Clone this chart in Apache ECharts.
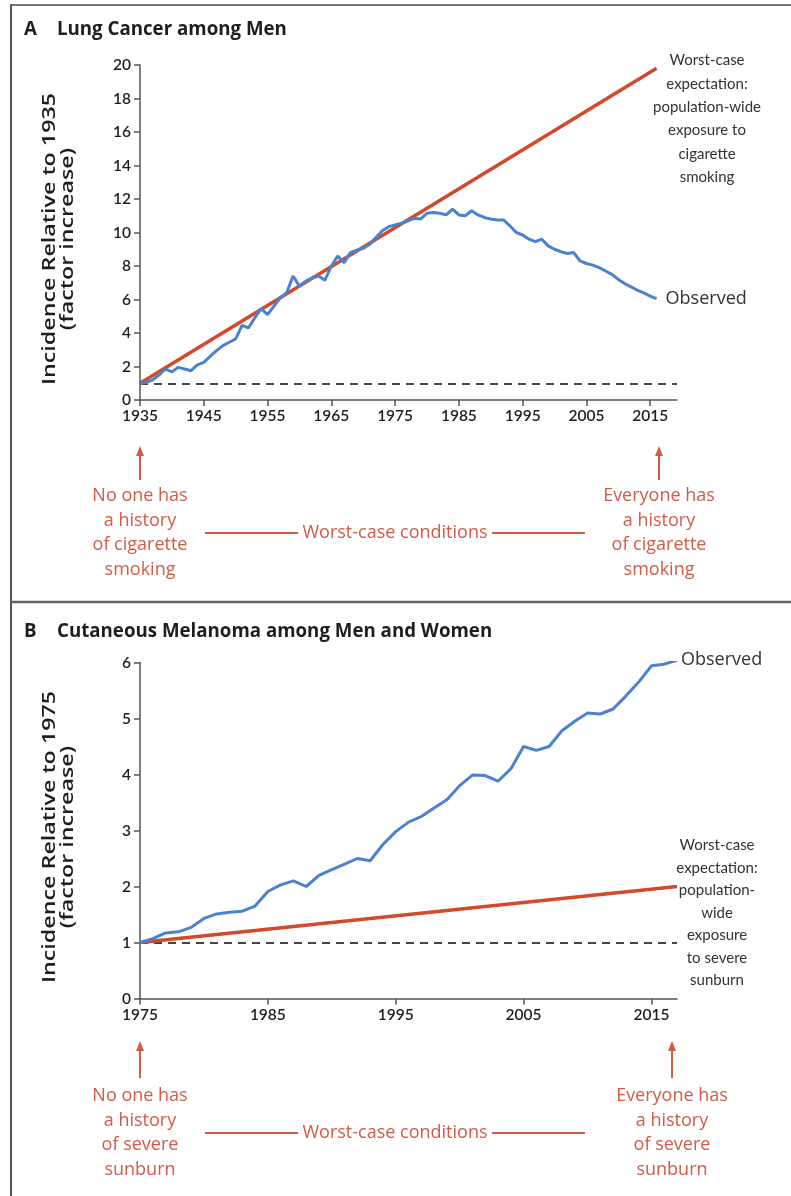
<!DOCTYPE html>
<html><head><meta charset="utf-8">
<script src="https://cdn.jsdelivr.net/npm/echarts@6/dist/echarts.min.js"></script>
<style>html,body{margin:0;padding:0;background:#fff}#c{width:791px;height:1196px}</style>
</head><body><div id="c"></div>
<script>
// ---------- Panel A: lung cancer among men ----------
const yearsA = [1935,1936,1937,1938,1939,1940,1941,1942,1943,1944,1945,1946,1947,1948,1949,1950,1951,1952,1953,1954,1955,1956,1957,1958,1959,1960,1961,1962,1963,1964,1965,1966,1967,1968,1969,1970,1971,1972,1973,1974,1975,1976,1977,1978,1979,1980,1981,1982,1983,1984,1985,1986,1987,1988,1989,1990,1991,1992,1993,1994,1995,1996,1997,1998,1999,2000,2001,2002,2003,2004,2005,2006,2007,2008,2009,2010,2011,2012,2013,2014,2015,2016];
const observedA = [1.0,1.05,1.2,1.5,1.85,1.68,1.95,1.85,1.75,2.1,2.25,2.6,2.95,3.25,3.45,3.65,4.45,4.3,4.9,5.45,5.1,5.6,6.1,6.4,7.4,6.8,7.1,7.3,7.4,7.15,8.0,8.6,8.2,8.8,8.95,9.05,9.3,9.7,10.1,10.35,10.45,10.55,10.7,10.85,10.8,11.15,11.2,11.15,11.05,11.4,11.05,11.0,11.3,11.05,10.9,10.8,10.75,10.75,10.4,10.0,9.85,9.6,9.45,9.6,9.2,9.0,8.85,8.75,8.8,8.3,8.15,8.05,7.9,7.7,7.5,7.2,6.95,6.75,6.55,6.4,6.2,6.05];
const worstA = [[1935,1],[2016,19.8]];
const xTicksA = [1935,1945,1955,1965,1975,1985,1995,2005,2015];

// ---------- Panel B: cutaneous melanoma ----------
const yearsB = [1975,1976,1977,1978,1979,1980,1981,1982,1983,1984,1985,1986,1987,1988,1989,1990,1991,1992,1993,1994,1995,1996,1997,1998,1999,2000,2001,2002,2003,2004,2005,2006,2007,2008,2009,2010,2011,2012,2013,2014,2015,2016,2017];
const observedB = [1.0,1.07,1.17,1.19,1.27,1.43,1.51,1.54,1.56,1.65,1.91,2.03,2.1,2.0,2.2,2.3,2.4,2.5,2.46,2.75,2.98,3.15,3.25,3.4,3.55,3.8,3.99,3.98,3.88,4.1,4.5,4.43,4.5,4.78,4.95,5.1,5.08,5.17,5.4,5.65,5.94,5.97,6.04];
const worstB = [[1975,1],[2017,2.0]];
const xTicksB = [1975,1985,1995,2005,2015];

const BLUE = '#4b82cf', RED = '#d2492b', ANN = '#d25a48', INK = '#1e1e1e', AX = '#555';
const FONT = 'Lato', WIDE = 'Open Sans';

function xAxisCfg(idx, min, max, ticks){
  return {type:'value', gridIndex:idx, min:min, max:max,
    axisLine:{lineStyle:{color:AX,width:1.5}},
    axisTick:{show:true, length:6, lineStyle:{color:AX,width:1.5}, customValues:ticks},
    axisLabel:{color:INK, fontSize:15.5, fontFamily:FONT, fontWeight:600, margin:8, customValues:ticks, formatter:v=>String(v)},
    splitLine:{show:false}};
}
function yAxisCfg(idx, max, interval){
  return {type:'value', gridIndex:idx, min:0, max:max, interval:interval,
    axisLine:{show:true, lineStyle:{color:AX,width:1.5}},
    axisTick:{show:true, length:6, lineStyle:{color:AX,width:1.5}},
    axisLabel:{color:INK, fontSize:15.5, fontFamily:FONT, fontWeight:600, margin:9},
    splitLine:{show:false}};
}
function dashed(){
  return {silent:true, symbol:'none', label:{show:false}, z:1,
    lineStyle:{type:[8,6], color:'#444', width:2}, data:[{yAxis:1}]};
}

function arrow(x, yTop, yBot){
  return [
    {type:'line', shape:{x1:x,y1:yTop+8,x2:x,y2:yBot}, style:{stroke:ANN,lineWidth:2}},
    {type:'polygon', shape:{points:[[x,yTop],[x-4,yTop+10],[x+4,yTop+10]]}, style:{fill:ANN}}
  ];
}
function txt(x, y, s, color, opts){
  return {type:'text', style:Object.assign({text:s, x:x, y:y, fill:color, fontFamily:FONT, fontSize:15,
    align:'center', verticalAlign:'middle', lineHeight:23.5}, opts||{})};
}
function axisName(cx, cy, s){
  return {type:'text', x:cx, y:cy, rotation:Math.PI/2, scaleX:1.33,
    style:{text:s, x:0, y:0, fill:INK, fontFamily:WIDE, fontSize:17.5, fontWeight:600,
      align:'center', verticalAlign:'middle', lineHeight:18.5}};
}
function hline(x1,x2,y,color,w){
  return {type:'line', shape:{x1:x1,y1:y,x2:x2,y2:y}, style:{stroke:color,lineWidth:w}};
}
const RTXT = {fontFamily:WIDE, fontSize:18, lineHeight:24.5};

const graphics = [].concat(
  [hline(11,791,5,'#777',2), {type:'line',shape:{x1:11,y1:4,x2:11,y2:1196},style:{stroke:'#555',lineWidth:2}}, hline(11,791,602,'#666',2.5)],
  [txt(24,30,'A',INK,{align:'left',fontWeight:'bold',fontSize:18.7,fontFamily:WIDE}), txt(57,30,'Lung Cancer among Men',INK,{align:'left',fontWeight:'bold',fontSize:18.7,fontFamily:WIDE})],
  [txt(24,632,'B',INK,{align:'left',fontWeight:'bold',fontSize:18.7,fontFamily:WIDE}), txt(57,632,'Cutaneous Melanoma among Men and Women',INK,{align:'left',fontWeight:'bold',fontSize:18.7,fontFamily:WIDE})],
  [axisName(59,239,'Incidence Relative to 1935\n(factor increase)'), axisName(59,837,'Incidence Relative to 1975\n(factor increase)')],
  [txt(707,49,'Worst-case\nexpectation:\npopulation-wide\nexposure to\ncigarette\nsmoking','#333',{verticalAlign:'top',lineHeight:23.3})],
  [txt(717,834,'Worst-case\nexpectation:\npopulation-\nwide\nexposure\nto severe\nsunburn','#333',{verticalAlign:'top',lineHeight:22.5})],
  arrow(140,446,480), arrow(659,446,480),
  [txt(140,533,'No one has\na history\nof cigarette\nsmoking',ANN,RTXT),
   txt(659,533,'Everyone has\na history\nof cigarette\nsmoking',ANN,RTXT),
   txt(395,533,'Worst-case conditions',ANN,RTXT),
   hline(205,298,533,ANN,2), hline(492,585,533,ANN,2)],
  arrow(140,1041,1078), arrow(672,1041,1078),
  [txt(140,1133,'No one has\na history\nof severe\nsunburn',ANN,RTXT),
   txt(672,1133,'Everyone has\na history\nof severe\nsunburn',ANN,RTXT),
   txt(395,1133,'Worst-case conditions',ANN,RTXT),
   hline(205,298,1133,ANN,2), hline(492,585,1133,ANN,2)]
);

const chart = echarts.init(document.getElementById('c'), null, {renderer:'canvas'});
chart.setOption({
  animation:false,
  backgroundColor:'#fff',
  grid:[
    {left:140, top:65, width:537, height:335},
    {left:140, top:662.5, width:537, height:336}
  ],
  xAxis:[xAxisCfg(0,1935,2019.2,xTicksA), xAxisCfg(1,1975,2017,xTicksB)],
  yAxis:[yAxisCfg(0,20,2), yAxisCfg(1,6,1)],
  series:[
    {name:'Worst-case A', type:'line', xAxisIndex:0, yAxisIndex:0, data:worstA, symbol:'none', z:3,
      lineStyle:{color:RED,width:3.5}, markLine:dashed()},
    {name:'Observed', type:'line', xAxisIndex:0, yAxisIndex:0, symbol:'none', z:4,
      data:yearsA.map((y,i)=>[y,observedA[i]]), lineStyle:{color:BLUE,width:3},
      endLabel:{show:true, formatter:'Observed', color:'#333', fontSize:18, fontFamily:WIDE, distance:9}},
    {name:'Worst-case B', type:'line', xAxisIndex:1, yAxisIndex:1, data:worstB, symbol:'none', z:3,
      lineStyle:{color:RED,width:3.5}, markLine:dashed()},
    {name:'Observed', type:'line', xAxisIndex:1, yAxisIndex:1, symbol:'none', z:4,
      data:yearsB.map((y,i)=>[y,observedB[i]]), lineStyle:{color:BLUE,width:3},
      endLabel:{show:true, formatter:'Observed', color:'#333', fontSize:18, fontFamily:WIDE, distance:4}}
  ],
  graphic:graphics
});
</script></body></html>
